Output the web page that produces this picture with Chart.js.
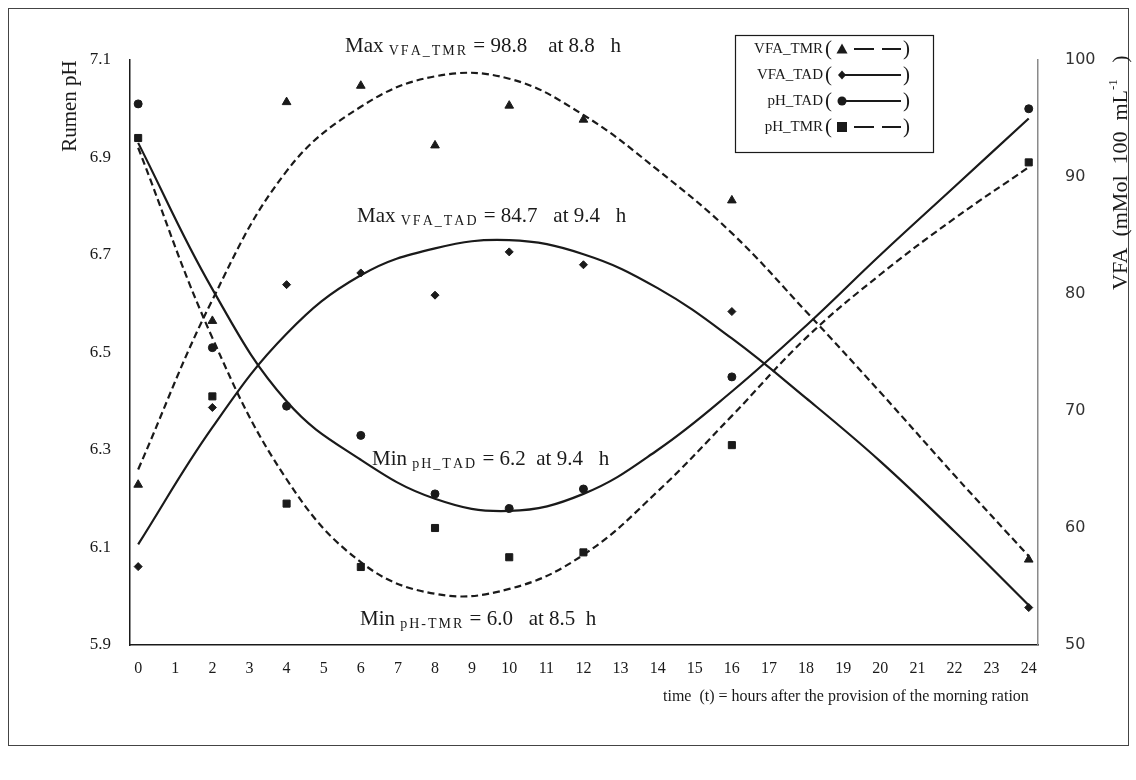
<!DOCTYPE html>
<html>
<head>
<meta charset="utf-8">
<script src="https://cdn.jsdelivr.net/npm/chart.js@4.4.0/dist/chart.umd.min.js"></script>
<style>
  html, body { margin: 0; padding: 0; background: #fff; }
  #wrap { position: relative; width: 1136px; height: 780px; }
  #frame { position: absolute; left: 8px; top: 8px; width: 1121px; height: 738px; border: 1px solid #444; box-sizing: border-box; }
  canvas { position: absolute; left: 0; top: 0; }
</style>
</head>
<body>
<div id="wrap">
  <div id="frame"></div>
  <canvas id="chart" width="1136" height="780"></canvas>
</div>
<script>
'use strict';

// Measured points (hours after the morning ration)
var hours = [0, 2, 4, 6, 8, 10, 12, 16, 24];
var phTAD = [7.01, 6.51, 6.39, 6.33, 6.21, 6.18, 6.22, 6.45, 7.00];
var phTMR = [6.94, 6.41, 6.19, 6.06, 6.14, 6.08, 6.09, 6.31, 6.89];
var vfaTMR = [63.7, 77.7, 96.4, 97.8, 92.7, 96.1, 94.9, 88.0, 57.3];
var vfaTAD = [56.7, 70.3, 80.8, 81.8, 79.9, 83.6, 82.5, 78.5, 53.2];

// Fitted curves, every 2 h
var fitHours = [0, 2, 4, 6, 8, 10, 12, 14, 16, 18, 20, 22, 24];
var phTADFit = [6.93, 6.63, 6.40, 6.28, 6.20, 6.175, 6.21, 6.30, 6.42, 6.555, 6.70, 6.84, 6.98];
var phTMRFit = [6.92, 6.53, 6.24, 6.07, 6.005, 6.015, 6.085, 6.215, 6.37, 6.53, 6.66, 6.775, 6.88];
var vfaTMRFit = [65.0, 79.5, 90.5, 96.0, 98.6, 98.4, 95.3, 90.6, 85.2, 78.5, 71.6, 64.5, 57.6];
var vfaTADFit = [58.6, 68.6, 76.6, 81.6, 83.9, 84.6, 83.4, 80.5, 76.2, 71.1, 65.7, 59.7, 53.4];

// Tick labels
var xTicks = [0, 1, 2, 3, 4, 5, 6, 7, 8, 9, 10, 11, 12, 13, 14, 15, 16, 17, 18, 19, 20, 21, 22, 23, 24];
var phTicks = [5.9, 6.1, 6.3, 6.5, 6.7, 6.9, 7.1];
var vfaTicks = [50, 60, 70, 80, 90, 100];

var SERIF = '"Liberation Serif", "Times New Roman", serif';
var INK = '#1a1a1a';

function pairs(xs, ys) {
    return xs.map(function (x, i) { return { x: x, y: ys[i] }; });
}

function curve(label, xs, ys, axis, dashed) {
    return {
        label: label,
        data: pairs(xs, ys),
        yAxisID: axis,
        showLine: true,
        pointRadius: 0,
        borderColor: INK,
        borderWidth: 2.2,
        borderDash: dashed ? [7, 4] : [],
        tension: 0.4,
        fill: false
    };
}

function marks(label, ys, axis, style, radius) {
    return {
        label: label,
        data: pairs(hours, ys),
        yAxisID: axis,
        showLine: false,
        pointStyle: style,
        pointRadius: radius,
        pointBackgroundColor: INK,
        pointBorderColor: INK,
        pointBorderWidth: 1
    };
}

// draws a run of text pieces with different sizes / baseline shifts / spacing
function drawParts(ctx, x, y, parts) {
    var cx = x;
    parts.forEach(function (p) {
        ctx.font = p.size + 'px ' + SERIF;
        if (p.ls) {
            p.t.split('').forEach(function (ch) {
                ctx.fillText(ch, cx, y + (p.dy || 0));
                cx += ctx.measureText(ch).width + p.ls;
            });
        } else {
            ctx.fillText(p.t, cx, y + (p.dy || 0));
            cx += ctx.measureText(p.t).width;
        }
    });
    return cx - x;
}

function drawMarker(ctx, style, x, y) {
    ctx.beginPath();
    if (style === 'triangle') {
        ctx.moveTo(x, y - 5.5); ctx.lineTo(x + 5.5, y + 4.5); ctx.lineTo(x - 5.5, y + 4.5); ctx.closePath();
    } else if (style === 'rectRot') {
        ctx.moveTo(x, y - 4.5); ctx.lineTo(x + 4, y); ctx.lineTo(x, y + 4.5); ctx.lineTo(x - 4, y); ctx.closePath();
    } else if (style === 'circle') {
        ctx.arc(x, y, 4.5, 0, Math.PI * 2);
    } else {
        ctx.rect(x - 5, y - 5, 10, 10);
    }
    ctx.fill();
}

var legendItems = [
    { name: 'VFA_TMR', style: 'triangle', dashed: true },
    { name: 'VFA_TAD', style: 'rectRot', dashed: false },
    { name: 'pH_TAD', style: 'circle', dashed: false },
    { name: 'pH_TMR', style: 'rect', dashed: true }
];

function note(ctx, x, y, word, sub, rest) {
    drawParts(ctx, x, y, [
        { t: word + ' ', size: 21 },
        { t: sub, size: 14, dy: 5, ls: 2 },
        { t: rest, size: 21 }
    ]);
}

var overlay = {
    id: 'overlay',
    afterDraw: function (chart) {
        var ctx = chart.ctx;
        ctx.save();
        ctx.fillStyle = INK;
        ctx.strokeStyle = INK;
        ctx.textBaseline = 'middle';

        // annotations of the fitted extremes
        note(ctx, 345, 46, 'Max', 'VFA_TMR', ' = 98.8    at 8.8   h');
        note(ctx, 357, 216, 'Max', 'VFA_TAD', ' = 84.7   at 9.4   h');
        note(ctx, 372, 459, 'Min', 'pH_TAD', ' = 6.2  at 9.4   h');
        note(ctx, 360, 619, 'Min', 'pH-TMR', ' = 6.0   at 8.5  h');

        // axis titles
        ctx.save();
        ctx.translate(70, 106);
        ctx.rotate(-Math.PI / 2);
        ctx.textAlign = 'center';
        ctx.font = '21px ' + SERIF;
        ctx.fillText('Rumen pH', 0, 0);
        ctx.restore();

        ctx.save();
        ctx.translate(1121, 290);
        ctx.rotate(-Math.PI / 2);
        drawParts(ctx, 0, 0, [{ t: 'VFA  (mMol  100  mL', size: 22 }, { t: '-1', size: 13, dy: -7 }, { t: '   )', size: 22 }]);
        ctx.restore();

        ctx.font = '16px ' + SERIF;
        ctx.fillText('time  (t) = hours after the provision of the morning ration', 663, 697);

        // legend box
        ctx.lineWidth = 1.2;
        ctx.strokeRect(735.5, 35.5, 198, 117);
        legendItems.forEach(function (it, i) {
            var y = 49 + i * 26;
            ctx.textAlign = 'right';
            ctx.font = '15px ' + SERIF;
            ctx.fillText(it.name, 823, y);
            ctx.textAlign = 'left';
            ctx.font = '21px ' + SERIF;
            ctx.fillText('(', 825, y);
            ctx.fillText(')', 903, y);
            drawMarker(ctx, it.style, 842, y);
            ctx.lineWidth = 2.2;
            ctx.beginPath();
            if (it.dashed) {
                ctx.moveTo(854, y); ctx.lineTo(874, y);
                ctx.moveTo(882, y); ctx.lineTo(901, y);
            } else {
                ctx.moveTo(845, y); ctx.lineTo(901, y);
            }
            ctx.stroke();
        });
        ctx.restore();
    }
};

var ctx = document.getElementById('chart').getContext('2d');
var chart = new Chart(ctx, {
    type: 'scatter',
    data: {
        datasets: [
            curve('VFA_TMR fit', fitHours, vfaTMRFit, 'vfa', true),
            curve('VFA_TAD fit', fitHours, vfaTADFit, 'vfa', false),
            curve('pH_TAD fit', fitHours, phTADFit, 'ph', false),
            curve('pH_TMR fit', fitHours, phTMRFit, 'ph', true),
            marks('VFA_TMR', vfaTMR, 'vfa', 'triangle', 5),
            marks('VFA_TAD', vfaTAD, 'vfa', 'rectRot', 4),
            marks('pH_TAD', phTAD, 'ph', 'circle', 4),
            marks('pH_TMR', phTMR, 'ph', 'rect', 5)
        ]
    },
    options: {
        responsive: false,
        animation: false,
        devicePixelRatio: 1,
        layout: { padding: { top: 60, left: 0, right: 0, bottom: 0 } },
        plugins: {
            legend: { display: false },
            tooltip: { enabled: false }
        },
        scales: {
            x: {
                type: 'linear',
                min: -0.22,
                max: 24.25,
                afterBuildTicks: function (scale) {
                    scale.ticks = xTicks.map(function (v) { return { value: v }; });
                },
                afterFit: function (scale) { scale.height = 135; },
                grid: { display: false },
                border: { display: true, color: INK, width: 1.5 },
                ticks: {
                    autoSkip: false,
                    maxRotation: 0,
                    padding: 6,
                    color: INK,
                    font: { family: SERIF, size: 16 }
                }
            },
            ph: {
                type: 'linear',
                position: 'left',
                min: 5.9,
                max: 7.1,
                afterBuildTicks: function (scale) {
                    scale.ticks = phTicks.map(function (v) { return { value: v }; });
                },
                afterFit: function (scale) { scale.width = 130; },
                grid: { display: false },
                border: { display: true, color: INK, width: 1.5 },
                ticks: {
                    padding: 11,
                    color: INK,
                    font: { family: SERIF, size: 17 },
                    callback: function (v) { return v.toFixed(1); }
                }
            },
            vfa: {
                type: 'linear',
                position: 'right',
                min: 50,
                max: 100,
                afterBuildTicks: function (scale) {
                    scale.ticks = vfaTicks.map(function (v) { return { value: v }; });
                },
                afterFit: function (scale) { scale.width = 98; },
                grid: { display: false },
                border: { display: true, color: '#8a8a8a', width: 1.5 },
                ticks: {
                    padding: 19,
                    color: '#333',
                    font: { family: '"DejaVu Sans", Verdana, sans-serif', size: 16 }
                }
            }
        }
    },
    plugins: [overlay]
});
</script>
</body>
</html>
